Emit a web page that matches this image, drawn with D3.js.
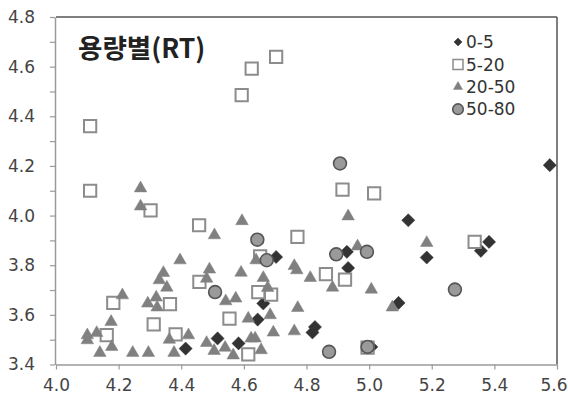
<!DOCTYPE html>
<html>
<head>
<meta charset="utf-8">
<script src="https://cdn.jsdelivr.net/npm/d3@7/dist/d3.min.js"></script>
<style>
  html, body { margin: 0; padding: 0; background: #fff; }
  svg { display: block; }
</style>
</head>
<body>
<script>
// Scatter of measurements grouped by capacity range (RT)
const seriesNames = ["0-5", "5-20", "20-50", "50-80"];

const cap0_5 = [
  [5.577, 4.203], [5.125, 3.981], [5.383, 3.894], [5.357, 3.858], [5.184, 3.831],
  [4.929, 3.854], [4.933, 3.789], [5.094, 3.648], [4.827, 3.551], [4.819, 3.529],
  [5.007, 3.471], [4.703, 3.833], [4.662, 3.646], [4.644, 3.581], [4.583, 3.485],
  [4.516, 3.505], [4.414, 3.464]
];

const cap5_20 = [
  [4.109, 4.360], [4.109, 4.100], [4.593, 4.485], [4.625, 4.592], [4.703, 4.639],
  [4.915, 4.105], [5.016, 4.089], [4.302, 4.021], [4.457, 3.961], [4.652, 3.836],
  [4.771, 3.914], [5.337, 3.894], [4.862, 3.764], [4.923, 3.742], [4.458, 3.733],
  [4.364, 3.643], [4.183, 3.648], [4.312, 3.562], [4.162, 3.518], [4.382, 3.521],
  [4.554, 3.585], [4.646, 3.692], [4.687, 3.682], [4.614, 3.441], [4.995, 3.468]
];

const cap20_50 = [
  [4.270, 4.110], [4.270, 4.037], [4.506, 3.921], [4.594, 3.978], [4.639, 3.820],
  [4.396, 3.820], [4.343, 3.769], [4.330, 3.740], [4.354, 3.710], [4.320, 3.670],
  [4.323, 3.630], [4.293, 3.646], [4.212, 3.679], [4.176, 3.572], [4.130, 3.527],
  [4.100, 3.518], [4.100, 3.498], [4.178, 3.471], [4.140, 3.447], [4.245, 3.447],
  [4.295, 3.447], [4.377, 3.447], [4.362, 3.500], [4.423, 3.518], [4.481, 3.746],
  [4.490, 3.783], [4.542, 3.655], [4.574, 3.666], [4.591, 3.770], [4.481, 3.487],
  [4.505, 3.455], [4.540, 3.468], [4.566, 3.437], [4.614, 3.585], [4.623, 3.505],
  [4.636, 3.505], [4.655, 3.458], [4.662, 3.749], [4.676, 3.709], [4.684, 3.599],
  [4.694, 3.529], [4.933, 3.997], [5.184, 3.890], [4.963, 3.876], [4.761, 3.797],
  [4.769, 3.780], [4.812, 3.749], [4.883, 3.710], [5.007, 3.702], [4.772, 3.628],
  [5.074, 3.630], [4.761, 3.534]
];

const cap50_80 = [
  [4.907, 4.210], [4.643, 3.903], [4.673, 3.820], [4.508, 3.692], [4.895, 3.844],
  [4.993, 3.854], [5.274, 3.702], [4.872, 3.451], [4.995, 3.471]
];

const xTicks = [4.0, 4.2, 4.4, 4.6, 4.8, 5.0, 5.2, 5.4, 5.6];
const yTicks = [3.4, 3.6, 3.8, 4.0, 4.2, 4.4, 4.6, 4.8];
const yMinorTicks = [3.5, 3.7, 3.9, 4.1, 4.3, 4.5, 4.7];
const title = "용량별(RT)";

const W = 568, H = 397;
const plot = { left: 56, right: 557, top: 17, bottom: 364.5 };

const svg = d3.select("body").append("svg")
  .attr("width", W).attr("height", H);

const x = d3.scaleLinear().domain([4.0, 5.6]).range([plot.left, plot.right]);
const y = d3.scaleLinear().domain([3.4, 4.8]).range([plot.bottom, plot.top]);

const axisColor = "#9a9a9a";
const frameColor = "#555";
const labelFont = "'DejaVu Sans', sans-serif";

// frame: top and right edges
svg.append("line")
  .attr("x1", plot.left).attr("x2", plot.right)
  .attr("y1", plot.top).attr("y2", plot.top)
  .attr("stroke", frameColor).attr("stroke-width", 1.5);
svg.append("line")
  .attr("x1", plot.right).attr("x2", plot.right)
  .attr("y1", plot.top).attr("y2", plot.bottom)
  .attr("stroke", frameColor).attr("stroke-width", 1.5);

// x axis
const xAxis = svg.append("g")
  .attr("transform", `translate(0,${plot.bottom})`)
  .call(d3.axisBottom(x).tickValues(xTicks).tickFormat(d3.format(".1f"))
    .tickSizeInner(5).tickSizeOuter(0).tickPadding(9));

// y axis: major ticks with labels, minor ticks in between
const yAxis = svg.append("g")
  .attr("transform", `translate(${plot.left - 1},0)`)
  .call(d3.axisLeft(y).tickValues(yTicks).tickFormat(d3.format(".1f"))
    .tickSizeInner(5).tickSizeOuter(0).tickPadding(15));
const yMinor = svg.append("g")
  .attr("transform", `translate(${plot.left - 1},0)`)
  .call(d3.axisLeft(y).tickValues(yMinorTicks).tickFormat("")
    .tickSizeInner(5).tickSizeOuter(0));
yMinor.select(".domain").remove();

[xAxis, yAxis, yMinor].forEach(g => {
  g.selectAll(".domain").attr("stroke", axisColor).attr("stroke-width", 1.5);
  g.selectAll(".tick line").attr("stroke", axisColor).attr("stroke-width", 1.2);
  g.selectAll(".tick text")
    .attr("fill", "#444")
    .style("font-family", labelFont)
    .style("font-size", "17px");
});

// keep the last x label inside the page edge
xAxis.selectAll(".tick text")
  .filter(d => d === 5.6)
  .attr("text-anchor", "end")
  .attr("x", 10);

// marker shapes per series
const styles = [
  { data: cap0_5, type: d3.symbolDiamond2, size: 110, legendSize: 42,
    fill: "#333", stroke: "#333", sw: 0.5 },
  { data: cap5_20, type: d3.symbolSquare, size: 150, legendSize: 100,
    fill: "#fff", stroke: "#8c8c8c", sw: 2 },
  { data: cap20_50, type: d3.symbolTriangle, size: 68, legendSize: 36,
    fill: "#808080", stroke: "#808080", sw: 0.5 },
  { data: cap50_80, type: d3.symbolCircle, size: 130, legendSize: 88,
    fill: "#9a9a9a", stroke: "#555", sw: 1.6 }
];

styles.forEach((s, i) => {
  const sym = d3.symbol().type(s.type).size(s.size);
  svg.append("g").attr("class", "series s" + i)
    .selectAll("path")
    .data(s.data)
    .join("path")
    .attr("d", sym)
    .attr("transform", d => `translate(${x(d[0])},${y(d[1])})`)
    .attr("fill", s.fill)
    .attr("stroke", s.stroke)
    .attr("stroke-width", s.sw);
});

// title
svg.append("text")
  .attr("x", 78).attr("y", 58)
  .attr("fill", "#222")
  .style("font-family", "'Noto Sans CJK KR', sans-serif")
  .style("font-weight", "bold")
  .style("font-size", "26.5px")
  .text(title);

// legend
const legend = svg.append("g").attr("transform", "translate(458,42)");
styles.forEach((s, i) => {
  const row = legend.append("g").attr("transform", `translate(0,${i * 22.4})`);
  row.append("path")
    .attr("d", d3.symbol().type(s.type).size(s.legendSize)())
    .attr("fill", s.fill)
    .attr("stroke", s.stroke)
    .attr("stroke-width", i === 1 ? 1.5 : s.sw);
  row.append("text")
    .attr("x", 8).attr("y", 0)
    .attr("dy", "0.36em")
    .attr("fill", "#333")
    .style("font-family", labelFont)
    .style("font-size", "17px")
    .text(seriesNames[i]);
});
</script>
</body>
</html>
